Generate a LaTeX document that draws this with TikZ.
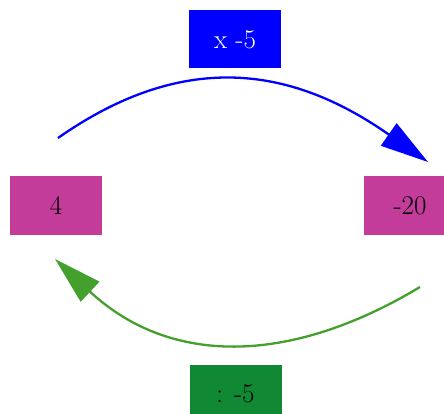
\documentclass[tikz,border=0pt]{standalone}
\usepackage{fontspec}
\usetikzlibrary{arrows.meta}
\definecolor{boxmag}{RGB}{196,60,154}
\definecolor{boxgreen}{RGB}{17,136,52}
\definecolor{arrgreen}{RGB}{68,160,44}
\definecolor{boxblue}{RGB}{0,0,255}
\begin{document}
\begin{tikzpicture}[x=1pt,y=-1pt,
  numbox/.style={fill=boxmag,minimum width=92pt,minimum height=58pt,inner sep=0pt,font=\fontsize{27}{32}\selectfont},
  opbox/.style={minimum width=92pt,minimum height=58pt,inner sep=0pt,font=\fontsize{27}{32}\selectfont},
  bluearr/.style={draw=boxblue,line width=2.3pt,-{Triangle[length=48pt,width=27pt]}},
  greenarr/.style={draw=arrgreen,line width=2.3pt,-{Triangle[length=48pt,width=27pt]}}]
\useasboundingbox (0,0) rectangle (444,414);
\clip (0,0) rectangle (444,414);
\node[numbox] (n4) at (56,205.5) {4};
\node[numbox] (n20) at (410,205.5) {-20};
\node[opbox,fill=boxblue,text=white] (mul) at (235,39.5) {x -5};
\node[opbox,fill=boxgreen] (div) at (235.5,394) {: -5};
\coordinate (b1) at (58,138);
\coordinate (b2) at (428,162);
\coordinate (g1) at (420,287);
\coordinate (g2) at (55,259);
\draw[bluearr] (b1) .. controls (189,46.2) and (297,70.2) .. (b2);
\draw[greenarr] (g1) .. controls (287.2,366.8) and (168.3,364.7) .. (g2);
\end{tikzpicture}
\end{document}
